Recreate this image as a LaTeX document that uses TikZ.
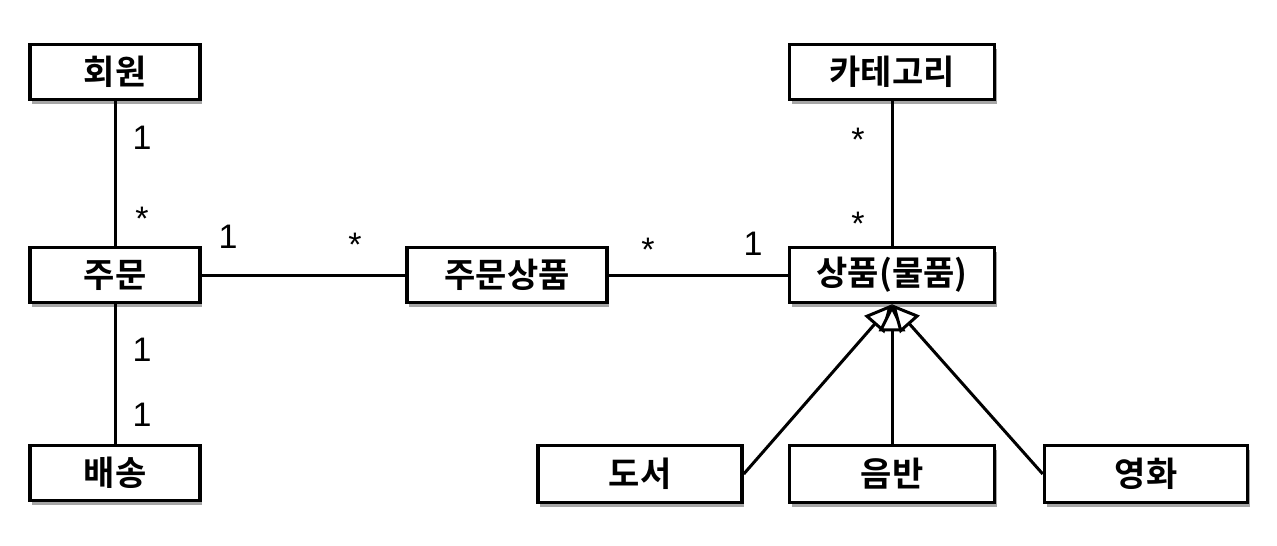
\documentclass[tikz,border=0pt]{standalone}
\usepackage{fontspec}
\newfontfamily\kr{Noto Sans CJK KR}[BoldFont={* Bold}]
\setmainfont{Liberation Sans}
\usetikzlibrary{shadows,arrows.meta}
\begin{document}
\begin{tikzpicture}[x=1pt,y=-1pt,
  ent/.style={draw, line width=3.5pt, fill=white, minimum width=170pt, minimum height=55pt, inner sep=0pt,
    font=\kr\bfseries\fontsize{34}{34}\selectfont,
    drop shadow={shadow xshift=2pt, shadow yshift=-4pt, fill=black, opacity=0.35}},
  conn/.style={line width=3pt},
  inh/.style={line width=3pt, -{Triangle[open, length=27pt, width=26pt, fill=white]}},
  mult/.style={font=\fontsize{34}{34}\selectfont, inner sep=0pt},
  star/.style={font=\fontsize{34}{34}\selectfont, inner sep=0pt, yshift=-7pt}]
\useasboundingbox[fill=white] (0,0) rectangle (1277,546);
\node[ent] (hoewon) at (115,72) {회원};
\node[ent] (jumun) at (115,275) {주문};
\node[ent] (baesong) at (115,473) {배송};
\node[ent, minimum width=200pt] (jsp) at (507,275) {주문상품};
\node[ent, minimum width=205pt] (cat) at (892,72) {카테고리};
\node[ent, minimum width=205pt] (sp) at (892,275) {상품(물품)};
\node[ent, minimum width=204pt, minimum height=57pt] (doseo) at (640,474) {도서};
\node[ent, minimum width=205pt, minimum height=57pt] (eumban) at (892,474) {음반};
\node[ent, minimum width=203pt, minimum height=57pt] (yh) at (1146,474) {영화};

\draw[conn] (hoewon) -- (jumun);
\draw[conn] (jumun) -- (baesong);
\draw[conn] (jumun) -- (jsp);
\draw[conn] (jsp) -- (sp);
\draw[conn] (cat) -- (sp);
\draw[inh] (doseo.east) -- (sp.south);
\draw[inh] (eumban.north) -- (sp.south);
\draw[inh] (yh.west) -- (sp.south);

\node[mult] (m1) at (142,138) {1};
\node[star] (m2) at (142,212) {*};
\node[mult] (m3) at (228,237) {1};
\node[star] (m4) at (355,238) {*};
\node[star] (m5) at (648,243) {*};
\node[mult] (m6) at (753,244) {1};
\node[star] (m7) at (858,133) {*};
\node[star] (m8) at (858,217) {*};
\node[mult] (m9) at (142,350) {1};
\node[mult] (m10) at (142,415) {1};
\end{tikzpicture}
\end{document}
